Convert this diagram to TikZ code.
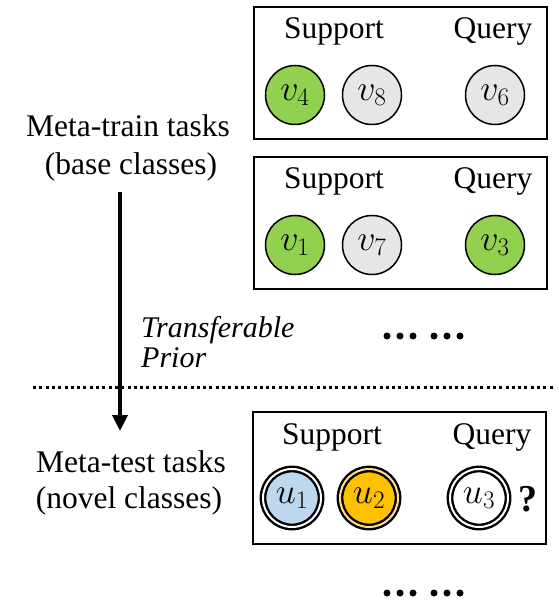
\RequirePackage{fix-cm}
\documentclass[tikz,border=0pt]{standalone}
\usepackage{fontspec}
\setmainfont{Liberation Serif}[ItalicFont=Liberation Serif Italic, BoldFont=Liberation Serif Bold]
\usetikzlibrary{arrows.meta}

\definecolor{nodegreen}{HTML}{92D050}
\definecolor{nodegray}{HTML}{E6E6E6}
\definecolor{nodeblue}{HTML}{BDD7EE}
\definecolor{nodeorange}{HTML}{FFC000}
\definecolor{gapyellow}{HTML}{FFE08A}

\tikzset{
  txt/.style={font=\fontsize{31.5}{36}\selectfont, inner sep=0pt, anchor=base},
  itxt/.style={font=\fontsize{30}{34}\selectfont\itshape, inner sep=0pt, anchor=base west},
  taskbox/.style={draw=black, line width=2.3pt},
  vnode/.style={circle, draw=black, line width=1.5pt, minimum size=59pt, inner sep=0pt,
                font=\fontsize{36}{42}\selectfont},
  unode/.style={circle, draw=black, line width=2.4pt, double distance=2pt,
                minimum size=58pt, inner sep=0pt, font=\fontsize{36}{42}\selectfont},
  dot/.style={circle, fill=black, inner sep=0pt, minimum size=7pt},
}

\begin{document}
\begin{tikzpicture}[x=1pt, y=-1pt]
\useasboundingbox (0,0) rectangle (558,612);

% left-hand captions
\node[txt] (train1) at (128,137) {Meta-train tasks};
\node[txt] (train2) at (131,175) {(base classes)};
\node[txt] (test1)  at (131,472) {Meta-test tasks};
\node[txt] (test2)  at (129,508) {(novel classes)};
\node[itxt] (prior1) at (141,337) {Transferable};
\node[itxt] (prior2) at (141,367) {Prior};

% transfer arrow
\coordinate (arrtop) at (120,192);
\coordinate (arrbot) at (120,431);
\draw[line width=4pt, -{Triangle[width=15pt,length=16pt]}] (arrtop) -- (arrbot);

% separator between meta-train and meta-test
\coordinate (sepL) at (33,387);
\coordinate (sepR) at (553,387);
\draw[line width=3pt, dash pattern=on 3pt off 3.3pt] (sepL) -- (sepR);

% meta-train task 1
\node[taskbox, minimum width=293pt, minimum height=132pt, anchor=north west, inner sep=0pt] (box1) at (253,6) {};
\node[txt] (sup1) at (334,39) {Support};
\node[txt] (qry1) at (493,39) {Query};
\node[vnode, fill=nodegreen] (v4) at (295,95) {$v_4$};
\node[vnode, fill=nodegray]  (v8) at (372,95) {$v_8$};
\node[vnode, fill=nodegray]  (v6) at (495,95) {$v_6$};

% meta-train task 2
\node[taskbox, minimum width=293pt, minimum height=132pt, anchor=north west, inner sep=0pt] (box2) at (253,156) {};
\node[txt] (sup2) at (334,189) {Support};
\node[txt] (qry2) at (493,189) {Query};
\node[vnode, fill=nodegreen] (v1) at (295,245) {$v_1$};
\node[vnode, fill=nodegray]  (v7) at (372,245) {$v_7$};
\node[vnode, fill=nodegreen] (v3) at (495,245) {$v_3$};

% more meta-train tasks
\node[dot] (d1) at (387,336) {};
\node[dot] (d2) at (400,336) {};
\node[dot] (d3) at (413,336) {};
\node[dot] (d4) at (434,336) {};
\node[dot] (d5) at (447,336) {};
\node[dot] (d6) at (460,336) {};

% meta-test task
\node[taskbox, minimum width=293pt, minimum height=132pt, anchor=north west, inner sep=0pt] (box3) at (252,411) {};
\node[txt] (sup3) at (332,444) {Support};
\node[txt] (qry3) at (492,444) {Query};
\node[unode, fill=nodeblue, double=white]       (u1) at (292,498) {$u_1$};
\node[unode, fill=nodeorange, double=gapyellow] (u2) at (369,498) {$u_2$};
\node[unode, fill=white, double=white]          (u3) at (479,498) {$u_3$};
\node[font=\fontsize{38}{44}\selectfont\bfseries, inner sep=0pt, anchor=base west] (ask) at (518,511) {?};

% more meta-test tasks
\node[dot] (e1) at (387,593) {};
\node[dot] (e2) at (400,593) {};
\node[dot] (e3) at (413,593) {};
\node[dot] (e4) at (434,593) {};
\node[dot] (e5) at (447,593) {};
\node[dot] (e6) at (460,593) {};
\end{tikzpicture}
\end{document}
